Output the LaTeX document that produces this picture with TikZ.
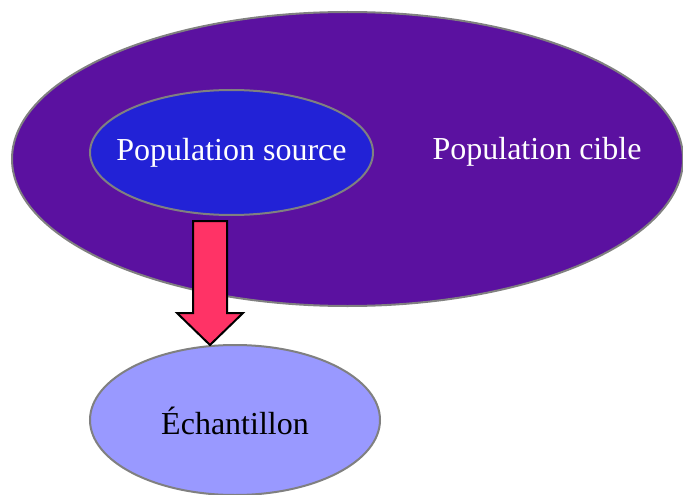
\documentclass[tikz,border=0pt]{standalone}
\usepackage{fontspec}
\setmainfont{Liberation Serif}
\usetikzlibrary{shapes.geometric}
\definecolor{cible}{RGB}{91,17,160}
\definecolor{source}{RGB}{34,34,214}
\definecolor{echant}{RGB}{153,153,255}
\definecolor{fleche}{RGB}{255,51,102}
\definecolor{bord}{RGB}{128,128,128}
\begin{document}
\begin{tikzpicture}[x=1pt,y=-1pt,
  ell/.style={ellipse,draw=bord,line width=2pt,inner sep=0pt},
  lbl/.style={font=\fontsize{32}{38}\selectfont}]
\useasboundingbox (0,0) rectangle (683,495);
\node[ell,fill=cible,minimum width=671pt,minimum height=294pt] (cib) at (347.5,159) {};
\node[ell,fill=source,minimum width=283pt,minimum height=125pt] (src) at (231.5,152.5) {};
\node[lbl,text=white] (srct) at (src.center) {Population source};
\node[lbl,text=white] (cibt) at (537,152) {Population cible};
\node[ell,fill=echant,minimum width=290pt,minimum height=150pt] (ech) at (235,420) {};
\node[lbl] (echt) at (235,421) {Échantillon};
\draw[fill=fleche,draw=black,line width=2pt,line join=miter]
  (193,221) -- (227,221) -- (227,313) -- (243,313) -- (210,345) -- (177,313) -- (193,313) -- cycle;
\end{tikzpicture}
\end{document}
